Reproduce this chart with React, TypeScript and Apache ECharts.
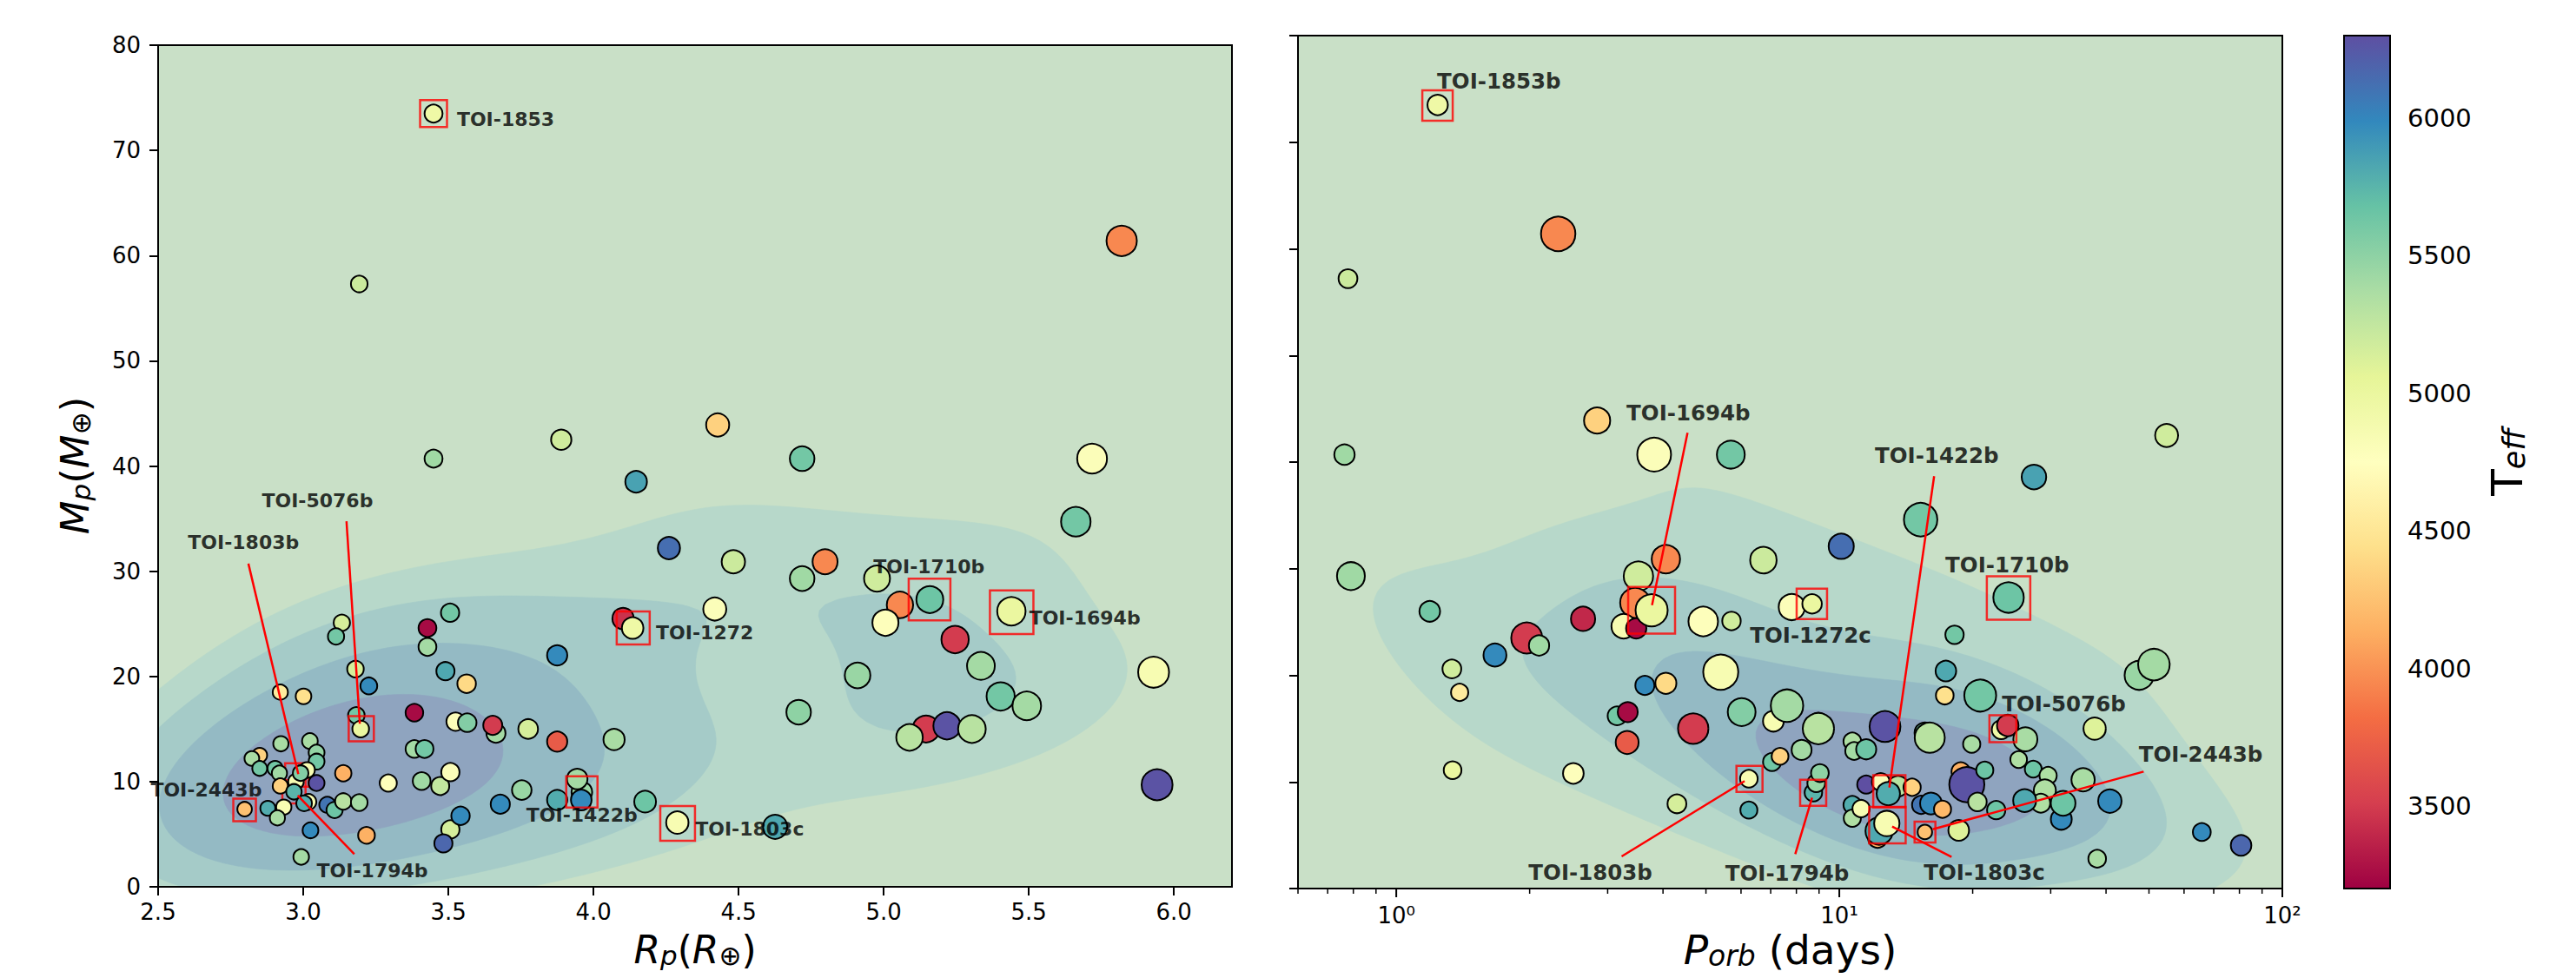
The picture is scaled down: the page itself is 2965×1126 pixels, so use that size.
import React, { useEffect, useRef } from "react";
import * as echarts from "echarts";

const FONT = "DejaVu Sans";

// ---------------- Left panel: radius vs mass ----------------
const leftRadius = [
  3.449, 3.193, 3.449, 3.889, 4.147, 5.82, 4.428, 4.719, 5.718, 5.662,
  4.26, 4.482, 4.798, 4.719, 4.977, 5.056, 5.159, 5.006, 5.44, 4.102,
  4.135, 4.418, 5.246, 5.335, 4.91, 5.403, 5.493, 4.707, 5.93, 5.942,
  5.146, 5.218, 5.304, 5.089, 4.071, 4.178, 4.289, 4.626, 3.875, 3.775,
  3.875, 3.664, 3.653, 3.753, 3.96, 3.944, 3.958, 3.875, 3.679, 3.506,
  3.428, 3.428, 3.133, 3.113, 3.49, 3.563, 3.18, 3.226, 2.921, 3.001,
  3.183, 3.198, 3.383, 3.525, 3.565, 2.923, 3.023, 3.046, 3.046, 3.383,
  3.418, 2.85, 2.823, 2.85, 2.903, 2.918, 2.975, 3.013, 2.991, 3.046,
  3.138, 3.293, 3.408, 3.472, 3.507, 2.921, 2.968, 2.798, 2.878, 3.018,
  2.933, 2.911, 3.003, 3.083, 3.108, 3.138, 3.193, 3.025, 3.218, 2.993,
  3.507, 3.542, 3.483,
];
const leftMass = [
  73.5, 57.3, 40.7, 42.5, 38.5, 61.4, 43.9, 40.7, 40.7, 34.7,
  32.2, 30.9, 30.9, 29.3, 29.3, 26.8, 27.3, 25.1, 26.2, 25.5,
  24.6, 26.4, 23.5, 21.0, 20.1, 18.1, 17.2, 16.6, 20.4, 9.7,
  15.0, 15.3, 15.0, 14.2, 14.0, 8.1, 6.1, 5.7, 22.0, 15.0,
  13.8, 14.6, 15.35, 9.2, 9.0, 10.25, 8.25, 8.25, 7.85, 26.05,
  22.8, 24.6, 25.1, 23.8, 20.5, 19.3, 20.7, 19.1, 18.5, 18.1,
  16.3, 15.0, 16.55, 15.7, 15.6, 13.6, 13.85, 12.75, 11.9, 13.1,
  13.1, 12.5, 12.2, 11.25, 11.25, 10.8, 10.0, 11.1, 10.8, 9.86,
  10.8, 9.86, 10.05, 9.58, 10.9, 9.58, 9.03, 7.38, 7.46, 8.07,
  7.57, 6.55, 7.93, 7.8, 7.3, 8.12, 8.01, 5.37, 4.9, 2.84,
  5.45, 6.75, 4.13,
];
const leftTeff = [
  4950, 5200, 5420, 5180, 5850, 3950, 4350, 5620, 4800, 5620,
  6130, 5200, 3950, 5420, 5180, 3950, 5650, 4780, 5000, 3450,
  4950, 4800, 3500, 5400, 5450, 5620, 5400, 5500, 4850, 6280,
  3500, 6280, 5300, 5300, 5380, 5650, 4850, 5820, 5980, 5150,
  3700, 5400, 3500, 5450, 5450, 5400, 5980, 5800, 5980, 5620,
  5400, 3250, 5150, 5620, 5820, 4400, 5150, 5980, 4550, 4450,
  5620, 5000, 3250, 4800, 5550, 5380, 5380, 5480, 5620, 5400,
  5620, 4350, 5380, 5620, 5620, 5420, 4850, 4850, 5550, 6280,
  4150, 4780, 5420, 5250, 4800, 4350, 5750, 4250, 5800, 4850,
  4850, 5380, 5800, 6100, 5650, 5300, 5400, 5980, 4150, 5400,
  5150, 5980, 6170,
];

// ---------------- Right panel: period vs mass ----------------
const rightPeriod = [
  1.24, 2.32, 0.778, 2.84, 3.82, 5.69, 0.764, 54.8, 27.5, 15.26,
  24.1, 18.2, 17.4, 47.5, 51.3, 17.3, 20.8, 23.2, 24.0, 26.3,
  37.7, 25.4, 27.4, 29.6, 35.5, 29.1, 28.5, 26.2, 31.7, 32.0,
  40.8, 65.8, 80.7, 38.2, 6.74, 7.81, 8.68, 4.93, 5.71, 5.40,
  6.02, 7.1, 7.62, 8.97, 8.97, 8.22, 7.05, 7.35, 6.25, 6.25,
  8.74, 8.87, 9.04, 10.7, 10.8, 11.5, 12.68, 15.6, 16.0, 19.9,
  18.8, 19.4, 21.3, 20.5, 22.6, 18.6, 15.6, 15.3, 16.1, 17.1,
  11.5, 12.4, 13.57, 12.9, 14.6, 10.7, 10.7, 11.2, 12.2, 12.3,
  12.8, 0.79, 1.19, 1.97, 2.10, 2.64, 1.67, 1.335, 1.39, 4.06,
  3.52, 3.46, 3.26, 3.48, 3.77, 10.1, 3.64, 4.06, 3.15, 3.33,
  3.32, 4.68, 1.34, 2.51, 4.30,
];
const rightMass = [
  73.5, 61.4, 57.2, 43.9, 40.7, 40.7, 40.7, 42.5, 38.6, 34.6,
  27.3, 23.8, 20.4, 20.0, 21.0, 18.1, 18.1, 14.9, 15.3, 14.0,
  15.0, 12.1, 11.2, 10.6, 10.2, 9.2, 8.0, 8.25, 6.5, 8.0,
  8.2, 5.3, 4.05, 2.8, 30.8, 26.4, 26.7, 25.05, 25.1, 20.3,
  16.55, 15.7, 17.15, 15.5, 15.0, 13.0, 11.87, 12.4, 10.3, 7.36,
  9.0, 9.88, 10.83, 13.8, 12.9, 13.06, 15.2, 14.6, 14.15, 13.55,
  10.97, 9.75, 11.1, 8.12, 7.36, 5.46, 5.3, 7.85, 7.98, 7.44,
  9.75, 10.0, 9.6, 8.9, 9.5, 7.85, 6.6, 7.5, 4.7, 5.4,
  6.1, 29.3, 26.0, 23.5, 22.8, 25.3, 21.9, 20.6, 18.4, 30.9,
  29.3, 26.8, 24.6, 24.4, 26.1, 32.1, 19.05, 19.25, 16.2, 16.55,
  13.7, 15.0, 11.1, 10.8, 7.95,
];
const rightTeff = [
  4950, 3950, 5200, 4350, 4800, 5620, 5420, 5180, 5850, 5620,
  5650, 5620, 5820, 5450, 5400, 4450, 5620, 4950, 3500, 5380,
  5100, 5350, 5650, 5350, 5380, 5350, 5350, 5820, 5980, 5650,
  5980, 5980, 6170, 5380, 5200, 4800, 5000, 4780, 5180, 4850,
  5550, 4850, 5400, 5600, 5300, 5400, 5630, 4350, 4850, 5800,
  5750, 5450, 5500, 5350, 5400, 5650, 6280, 5620, 5300, 5380,
  4150, 6280, 5650, 5300, 5650, 5100, 4250, 6100, 5980, 4200,
  6300, 4800, 5300, 5800, 4350, 5800, 5350, 4850, 4150, 5820,
  4850, 5420, 5620, 3500, 5420, 3400, 5980, 5180, 4550, 3950,
  5180, 3950, 4850, 3250, 5000, 6130, 5980, 4400, 5620, 3250,
  3700, 3500, 5000, 4780, 5150,
];
const rightRadius = [
  3.45, 5.82, 3.19, 4.43, 5.72, 4.72, 3.45, 3.89, 4.15, 5.66,
  5.16, 3.11, 3.49, 4.91, 5.34, 3.0, 5.40, 3.2, 3.65, 4.07,
  3.78, 2.82, 2.85, 2.92, 3.94, 3.75, 3.19, 3.88, 3.54, 4.18,
  3.96, 3.03, 3.48, 2.99, 4.48, 4.42, 3.3, 5.0, 3.13, 5.93,
  4.71, 3.52, 5.49, 3.57, 5.30, 3.38, 3.05, 2.85, 2.98, 2.88,
  2.97, 3.0, 3.0, 3.0, 3.0, 3.4, 5.22, 3.5, 5.09, 2.92,
  3.14, 5.94, 2.9, 3.14, 3.1, 3.5, 2.45, 3.08, 3.68, 2.9,
  3.05, 3.0, 3.47, 3.96, 2.92, 3.0, 2.91, 2.93, 3.2, 4.63,
  4.29, 4.72, 3.5, 5.25, 3.43, 4.1, 3.88, 3.18, 2.92, 4.8,
  4.98, 5.06, 4.13, 3.43, 5.44, 4.26, 3.23, 3.56, 3.18, 3.38,
  3.88, 5.15, 3.0, 3.5, 3.19,
];

// ---------------- Axis ticks ----------------
const radiusTicks = [2.5, 3.0, 3.5, 4.0, 4.5, 5.0, 5.5, 6.0];
const periodMajorTicks = [1, 10, 100];
const periodMinorTicks = [0.6, 0.7, 0.8, 0.9, 2, 3, 4, 5, 6, 7, 8, 9, 20, 30, 40, 50, 60, 70, 80, 90];
const teffTicks = [3500, 4000, 4500, 5000, 5500, 6000];
const TEFF_MIN = 3200;
const TEFF_MAX = 6300;

// ---------------- Annotations (data units) ----------------
const leftAnnoNames = ["TOI-1853", "TOI-5076b", "TOI-1803b", "TOI-2443b", "TOI-1794b", "TOI-1422b", "TOI-1272", "TOI-1803c", "TOI-1710b", "TOI-1694b"];
const leftAnnoX = [3.449, 3.2, 2.978, 2.798, 2.968, 3.96, 4.137, 4.29, 5.158, 5.441];
const leftAnnoY = [73.5, 15.03, 10.63, 7.3, 9.03, 9.02, 24.6, 6.02, 27.3, 26.1];
const leftAnnoRadius = [3.44, 3.22, 3.0, 2.89, 2.97, 4.0, 4.22, 4.44, 5.33, 5.56];
const leftAnnoBehind = [false, false, true, false, true, false, false, false, false, false];
const leftTextX = [3.531, 2.859, 2.604, 2.859, 3.048, 3.77, 4.217, 4.352, 4.966, 5.503];
const leftTextY = [72.94, 36.68, 32.71, 9.17, 1.49, 6.77, 24.12, 5.45, 30.4, 25.52];
const leftTextAlign = ["left", "left", "left", "right", "left", "left", "left", "left", "left", "left"];
const leftLineFrom = [[3.149, 34.75], [2.811, 30.72], [3.176, 3.11]];
const leftLineTo = [[3.195, 15.5], [2.983, 10.71], [2.981, 8.67]];

const rightAnnoNames = ["TOI-1853b", "TOI-1694b", "TOI-1422b", "TOI-1272c", "TOI-1710b", "TOI-5076b", "TOI-2443b", "TOI-1803c", "TOI-1794b", "TOI-1803b"];
const rightAnnoX = [1.239, 3.77, 12.97, 8.67, 24.1, 23.4, 15.61, 12.84, 8.73, 6.27];
const rightAnnoY = [73.45, 26.1, 9.12, 26.7, 27.25, 14.99, 5.3, 5.95, 8.99, 10.29];
const rightAnnoRadius = [3.43, 5.29, 3.63, 3.43, 4.9, 3.04, 2.35, 4.12, 2.94, 2.94];
const rightTextX = [1.239, 3.316, 12.06, 6.3, 17.39, 23.33, 47.53, 15.54, 5.54, 1.993];
const rightTextY = [75.7, 44.56, 40.57, 23.73, 30.27, 17.28, 12.55, 1.44, 1.41, 1.47];
const rightLineFrom = [[4.544, 42.75], [16.37, 38.68], [3.226, 3.01], [7.954, 3.23], [17.92, 2.96], [48.63, 10.97]];
const rightLineTo = [[3.778, 26.58], [12.97, 9.47], [6.113, 10.08], [8.68, 8.53], [13.16, 5.81], [16.25, 5.56]];

// ---------------- Styling ----------------
const SPECTRAL = ["#9e0142", "#d53e4f", "#f46d43", "#fdae61", "#fee08b", "#ffffbf", "#e6f598", "#abdda4", "#66c2a5", "#3288bd", "#5e4fa2"];
const ISO_PROPS = [0.2, 0.4, 0.6, 0.8];
const BG = "#c9e0c7";
const BAND_COLORS = ["#b7d8ca", "#a5cbc8", "#94bac4", "#8fa4bf"];

const LEFT_GRID = { left: 182, top: 52, width: 1236, height: 969 };
const RIGHT_GRID = { left: 1494, top: 41, width: 1133, height: 982 };
const CBAR_GRID = { left: 2698, top: 41, width: 53, height: 982 };

// ---------------- KDE + contours ----------------
function kde2d(xs: number[], ys: number[], n = 200, cut = 3) {
  const m = xs.length;
  let mx = 0, my = 0;
  for (let i = 0; i < m; i++) { mx += xs[i]; my += ys[i]; }
  mx /= m; my /= m;
  let sxx = 0, syy = 0, sxy = 0;
  for (let i = 0; i < m; i++) {
    const dx = xs[i] - mx, dy = ys[i] - my;
    sxx += dx * dx; syy += dy * dy; sxy += dx * dy;
  }
  sxx /= m - 1; syy /= m - 1; sxy /= m - 1;
  const f2 = Math.pow(m, -1 / 3);
  const a = sxx * f2, b = sxy * f2, d = syy * f2;
  const det = a * d - b * b;
  const ia = d / det, ib = -b / det, id = a / det;
  const bx = Math.sqrt(a), by = Math.sqrt(d);
  const x0 = Math.min(...xs) - cut * bx, x1 = Math.max(...xs) + cut * bx;
  const y0 = Math.min(...ys) - cut * by, y1 = Math.max(...ys) + cut * by;
  const gx = new Float64Array(n), gy = new Float64Array(n);
  for (let i = 0; i < n; i++) {
    gx[i] = x0 + ((x1 - x0) * i) / (n - 1);
    gy[i] = y0 + ((y1 - y0) * i) / (n - 1);
  }
  const vals = new Float64Array(n * n);
  for (let j = 0; j < n; j++) {
    for (let i = 0; i < n; i++) {
      let s = 0;
      for (let k = 0; k < m; k++) {
        const dx = gx[i] - xs[k], dy = gy[j] - ys[k];
        s += Math.exp(-0.5 * (ia * dx * dx + 2 * ib * dx * dy + id * dy * dy));
      }
      vals[j * n + i] = s;
    }
  }
  return { gx, gy, vals, n };
}

function isoLevels(vals: Float64Array, props: number[]) {
  const sorted = Array.from(vals).sort((p, q) => q - p);
  let total = 0;
  for (const v of sorted) total += v;
  const cum = new Float64Array(sorted.length);
  let c = 0;
  for (let i = 0; i < sorted.length; i++) { c += sorted[i]; cum[i] = c / total; }
  return props.map((q) => {
    const t = 1 - q;
    let idx = 0;
    while (idx < cum.length - 1 && cum[idx] < t) idx++;
    return sorted[idx];
  });
}

function contourLoops(gx: Float64Array, gy: Float64Array, vals: Float64Array, n: number, L: number) {
  const p = n + 2;
  const X = new Float64Array(p), Y = new Float64Array(p);
  const dx = gx[1] - gx[0], dy = gy[1] - gy[0];
  for (let i = 0; i < p; i++) {
    X[i] = i === 0 ? gx[0] - dx : i === p - 1 ? gx[n - 1] + dx : gx[i - 1];
    Y[i] = i === 0 ? gy[0] - dy : i === p - 1 ? gy[n - 1] + dy : gy[i - 1];
  }
  const V = (i: number, j: number) =>
    i === 0 || j === 0 || i === p - 1 || j === p - 1 ? -1 : vals[(j - 1) * n + (i - 1)];
  const adj = new Map<number, number[]>();
  const pos = new Map<number, number[]>();
  const link = (a: number, b: number) => {
    if (!adj.has(a)) adj.set(a, []);
    if (!adj.has(b)) adj.set(b, []);
    adj.get(a)!.push(b);
    adj.get(b)!.push(a);
  };
  const ep = (key: number, i0: number, j0: number, i1: number, j1: number) => {
    if (!pos.has(key)) {
      const va = V(i0, j0), vb = V(i1, j1);
      const t = (L - va) / (vb - va);
      pos.set(key, [X[i0] + t * (X[i1] - X[i0]), Y[j0] + t * (Y[j1] - Y[j0])]);
    }
    return key;
  };
  const hK = (i: number, j: number) => j * p + i;
  const vK = (i: number, j: number) => p * p + j * p + i;
  for (let j = 0; j < p - 1; j++) {
    for (let i = 0; i < p - 1; i++) {
      const v0 = V(i, j), v1 = V(i + 1, j), v2 = V(i + 1, j + 1), v3 = V(i, j + 1);
      const c = (v0 >= L ? 1 : 0) | (v1 >= L ? 2 : 0) | (v2 >= L ? 4 : 0) | (v3 >= L ? 8 : 0);
      if (c === 0 || c === 15) continue;
      const B = () => ep(hK(i, j), i, j, i + 1, j);
      const R = () => ep(vK(i + 1, j), i + 1, j, i + 1, j + 1);
      const T = () => ep(hK(i, j + 1), i, j + 1, i + 1, j + 1);
      const Lf = () => ep(vK(i, j), i, j, i, j + 1);
      const cen = (v0 + v1 + v2 + v3) / 4;
      switch (c) {
        case 1: case 14: link(Lf(), B()); break;
        case 2: case 13: link(B(), R()); break;
        case 3: case 12: link(Lf(), R()); break;
        case 4: case 11: link(R(), T()); break;
        case 6: case 9: link(B(), T()); break;
        case 7: case 8: link(Lf(), T()); break;
        case 5:
          if (cen >= L) { link(B(), R()); link(T(), Lf()); } else { link(Lf(), B()); link(R(), T()); }
          break;
        case 10:
          if (cen >= L) { link(Lf(), B()); link(R(), T()); } else { link(B(), R()); link(T(), Lf()); }
          break;
      }
    }
  }
  const visited = new Set<number>();
  const loops: number[][][] = [];
  for (const start of adj.keys()) {
    if (visited.has(start)) continue;
    const loop: number[][] = [];
    let prev = -1, cur = start;
    while (true) {
      visited.add(cur);
      loop.push(pos.get(cur)!);
      const nb = adj.get(cur)!;
      const next = nb[0] === prev ? nb[1] : nb[0];
      if (next === undefined || next === start || visited.has(next)) break;
      prev = cur;
      cur = next;
    }
    if (loop.length > 2) loops.push(loop);
  }
  return loops;
}

function buildContours(xs: number[], ys: number[], logX: boolean) {
  const kx = logX ? xs.map((v) => Math.log10(v)) : xs;
  const g = kde2d(kx, ys);
  const levels = isoLevels(g.vals, ISO_PROPS);
  const items: { level: number; pts: number[][] }[] = [];
  levels.forEach((L, k) => {
    contourLoops(g.gx, g.gy, g.vals, g.n, L).forEach((loop) => {
      items.push({ level: k, pts: loop.map(([x, y]) => [logX ? Math.pow(10, x) : x, y]) });
    });
  });
  return items;
}

function contourSeries(items: { level: number; pts: number[][] }[], axisIdx: number) {
  return {
    type: "custom",
    xAxisIndex: axisIdx,
    yAxisIndex: axisIdx,
    clip: true,
    silent: true,
    z: 1,
    data: items.map((it, i) => [it.pts[0][0], it.pts[0][1], i]),
    renderItem: (params: any, api: any) => {
      const it = items[params.dataIndex];
      return {
        type: "polygon",
        shape: { points: it.pts.map((pt) => api.coord(pt)) },
        style: { fill: BAND_COLORS[it.level], stroke: BAND_COLORS[it.level], lineWidth: 0.6 },
      };
    },
  };
}

function mathRich(fs: number) {
  const sub = Math.round(fs * 0.7);
  const subLH = Math.round(fs * 0.36);
  return {
    i: { fontFamily: FONT, fontStyle: "italic", fontSize: fs, lineHeight: fs, fill: "#000" },
    r: { fontFamily: FONT, fontSize: fs, lineHeight: fs, fill: "#000" },
    s: { fontFamily: FONT, fontStyle: "italic", fontSize: sub, lineHeight: subLH, verticalAlign: "bottom", fill: "#000" },
    o: { fontFamily: FONT, fontSize: sub, lineHeight: subLH, verticalAlign: "bottom", fill: "#000" },
  };
}

const SUP: Record<number, string> = { 0: "\u2070", 1: "\u00b9", 2: "\u00b2", 3: "\u00b3" };

export default function App() {
  const ref = useRef<HTMLDivElement>(null);
  useEffect(() => {
    if (!ref.current) return;
    const chart = echarts.init(ref.current, null, { renderer: "svg" });

    const leftContours = buildContours(leftRadius, leftMass, false);
    const rightContours = buildContours(rightPeriod, rightMass, true);

    const tickLabel = { fontFamily: FONT, fontSize: 26, color: "#000" };
    const tickStyle = { show: true, inside: false, length: 10, lineStyle: { color: "#000", width: 2 } };

    const boxSeries = (xs: number[], ys: number[], rads: number[], k: number, sel: (i: number) => boolean, axis: number, z: number) => ({
      type: "scatter",
      xAxisIndex: axis,
      yAxisIndex: axis,
      silent: true,
      z,
      symbol: "rect",
      data: xs.map((x, i) => [x, ys[i], rads[i]]).filter((_, i) => sel(i)),
      symbolSize: (v: number[]) => 1.5 * k * v[2],
      itemStyle: { color: "rgba(0,0,0,0)", borderColor: "#ff0000", borderWidth: 2.5 },
    });

    const labelSeries = (names: string[], xs: number[], ys: number[], aligns: string[] | null, fs: number, axis: number) => ({
      type: "scatter",
      xAxisIndex: axis,
      yAxisIndex: axis,
      silent: true,
      z: 8,
      symbolSize: 1,
      itemStyle: { color: "rgba(0,0,0,0)" },
      data: names.map((nm, i) => ({
        name: nm,
        value: [xs[i], ys[i]],
        label: { align: aligns ? aligns[i] : "left" },
      })),
      label: {
        show: true,
        position: [0, 0],
        formatter: "{b}",
        fontFamily: FONT,
        fontWeight: "bold",
        fontSize: fs,
        color: "#000",
        align: "left",
        verticalAlign: "middle",
      },
    });

    const lineSeries = (from: number[][], to: number[][], axis: number) => ({
      type: "lines",
      coordinateSystem: "cartesian2d",
      xAxisIndex: axis,
      yAxisIndex: axis,
      silent: true,
      z: 7,
      data: from.map((f, i) => ({ coords: [f, to[i]] })),
      lineStyle: { color: "#ff0000", width: 2.5, opacity: 1, curveness: 0 },
    });

    const tickData = [
      ...periodMajorTicks.map((v) => [v, 0, 10, 2]),
      ...periodMinorTicks.map((v) => [v, 0, 6, 1.5]),
    ];

    const colorStops = SPECTRAL.slice().reverse().map((c, i) => ({ offset: i / (SPECTRAL.length - 1), color: c }));

    const option: any = {
      animation: false,
      backgroundColor: "#ffffff",
      grid: [
        { ...LEFT_GRID, show: true, backgroundColor: BG, borderWidth: 0, containLabel: false, outerBoundsMode: "none" },
        { ...RIGHT_GRID, show: true, backgroundColor: BG, borderWidth: 0, containLabel: false, outerBoundsMode: "none" },
        { ...CBAR_GRID, show: false, containLabel: false, outerBoundsMode: "none" },
      ],
      xAxis: [
        {
          type: "value", gridIndex: 0, min: 2.5, max: 6.2, interval: 0.5,
          axisLine: { show: false }, splitLine: { show: false },
          axisTick: { ...tickStyle, customValues: radiusTicks },
          axisLabel: {
            ...tickLabel, margin: 16, customValues: radiusTicks,
            formatter: (v: number) => (Math.abs(v * 2 - Math.round(v * 2)) < 1e-9 ? v.toFixed(1) : ""),
          },
        },
        {
          type: "log", logBase: 10, gridIndex: 1, min: 0.6, max: 100,
          axisLine: { show: false }, splitLine: { show: false }, minorSplitLine: { show: false },
          axisTick: { show: false },
          axisLabel: {
            ...tickLabel, margin: 18, showMinLabel: true, showMaxLabel: true,
            formatter: (v: number) => {
              const l = Math.log10(v);
              if (Math.abs(l - Math.round(l)) > 1e-6) return "";
              return "10" + SUP[Math.round(l)];
            },
          },
        },
        { type: "value", gridIndex: 2, min: 0, max: 1, show: false },
      ],
      yAxis: [
        {
          type: "value", gridIndex: 0, min: 0, max: 80, interval: 10,
          axisLine: { show: false }, splitLine: { show: false },
          axisTick: tickStyle,
          axisLabel: { ...tickLabel, margin: 20 },
        },
        {
          type: "value", gridIndex: 1, min: 0, max: 80, interval: 10,
          axisLine: { show: false }, splitLine: { show: false },
          axisTick: tickStyle,
          axisLabel: { show: false },
        },
        {
          type: "value", gridIndex: 2, min: TEFF_MIN, max: TEFF_MAX, position: "right",
          axisLine: { show: false }, splitLine: { show: false },
          axisTick: { ...tickStyle, customValues: teffTicks },
          axisLabel: {
            fontFamily: FONT, fontSize: 29, color: "#000", margin: 20, customValues: teffTicks,
            formatter: (v: number) => (v % 500 === 0 ? String(v) : ""),
          },
        },
      ],
      visualMap: [
        {
          type: "continuous", show: false, min: TEFF_MIN, max: TEFF_MAX, dimension: 2,
          seriesIndex: [3, 4], inRange: { color: SPECTRAL },
        },
      ],
      series: [
        contourSeries(leftContours, 0),
        contourSeries(rightContours, 1),
        boxSeries(leftAnnoX, leftAnnoY, leftAnnoRadius, 6, (i) => leftAnnoBehind[i], 0, 2),
        {
          type: "scatter", xAxisIndex: 0, yAxisIndex: 0, z: 3, clip: true, silent: true,
          data: leftRadius.map((r, i) => [r, leftMass[i], leftTeff[i], r]),
          symbolSize: (v: number[]) => 6 * v[3],
          itemStyle: { borderColor: "#000", borderWidth: 2, opacity: 1 },
        },
        {
          type: "scatter", xAxisIndex: 1, yAxisIndex: 1, z: 3, clip: true, silent: true,
          data: rightPeriod.map((p, i) => [p, rightMass[i], rightTeff[i], rightRadius[i]]),
          symbolSize: (v: number[]) => 6.8 * v[3],
          itemStyle: { borderColor: "#000", borderWidth: 2, opacity: 1 },
        },
        boxSeries(leftAnnoX, leftAnnoY, leftAnnoRadius, 6, (i) => !leftAnnoBehind[i], 0, 5),
        boxSeries(rightAnnoX, rightAnnoY, rightAnnoRadius, 6.8, () => true, 1, 5),
        lineSeries(leftLineFrom, leftLineTo, 0),
        lineSeries(rightLineFrom, rightLineTo, 1),
        labelSeries(leftAnnoNames, leftTextX, leftTextY, leftTextAlign, 22, 0),
        labelSeries(rightAnnoNames, rightTextX, rightTextY, null, 24.5, 1),
        {
          type: "custom", xAxisIndex: 1, yAxisIndex: 1, clip: false, silent: true, z: 9,
          data: tickData,
          renderItem: (params: any, api: any) => {
            const v = tickData[params.dataIndex];
            const pt = api.coord([v[0], v[1]]);
            return {
              type: "line",
              shape: { x1: pt[0], y1: pt[1], x2: pt[0], y2: pt[1] + v[2] },
              style: { stroke: "#000", lineWidth: v[3] },
            };
          },
        },
        {
          type: "custom", xAxisIndex: 2, yAxisIndex: 2, clip: false, silent: true, z: 9,
          data: [[0, TEFF_MIN]],
          renderItem: (params: any, api: any) => {
            const tl = api.coord([0, TEFF_MAX]);
            const br = api.coord([1, TEFF_MIN]);
            return {
              type: "rect",
              shape: { x: tl[0], y: tl[1], width: br[0] - tl[0], height: br[1] - tl[1] },
              style: {
                fill: new echarts.graphic.LinearGradient(0, 0, 0, 1, colorStops),
                stroke: "#000",
                lineWidth: 2,
              },
            };
          },
        },
      ],
      graphic: [
        {
          type: "rect", z: 100, silent: true,
          shape: { x: LEFT_GRID.left, y: LEFT_GRID.top, width: LEFT_GRID.width, height: LEFT_GRID.height },
          style: { fill: "none", stroke: "#000", lineWidth: 2 },
        },
        {
          type: "rect", z: 100, silent: true,
          shape: { x: RIGHT_GRID.left, y: RIGHT_GRID.top, width: RIGHT_GRID.width, height: RIGHT_GRID.height },
          style: { fill: "none", stroke: "#000", lineWidth: 2 },
        },
        {
          type: "text", z: 100, silent: true, x: 86, y: 536, rotation: Math.PI / 2,
          style: { text: "{i|M}{s|p}{r|(}{i|M}{o|\u2295}{r|)}", rich: mathRich(45), align: "center", verticalAlign: "middle" },
        },
        {
          type: "text", z: 100, silent: true, x: LEFT_GRID.left + LEFT_GRID.width / 2, y: 1093,
          style: { text: "{i|R}{s|p}{r|(}{i|R}{o|\u2295}{r|)}", rich: mathRich(44), align: "center", verticalAlign: "middle" },
        },
        {
          type: "text", z: 100, silent: true, x: RIGHT_GRID.left + RIGHT_GRID.width / 2, y: 1093,
          style: { text: "{i|P}{s|orb}{r| (days)}", rich: mathRich(47), align: "center", verticalAlign: "middle" },
        },
        {
          type: "text", z: 100, silent: true, x: 2886, y: 532, rotation: Math.PI / 2,
          style: { text: "{r|T}{s|eff}", rich: mathRich(50), align: "center", verticalAlign: "middle" },
        },
      ],
    };
    chart.setOption(option);
    return () => chart.dispose();
  }, []);
  return (
    <div
      ref={ref}
      style={{ position: "absolute", left: 0, top: 0, width: 2965, height: 1126, background: "#fff" }}
    />
  );
}
